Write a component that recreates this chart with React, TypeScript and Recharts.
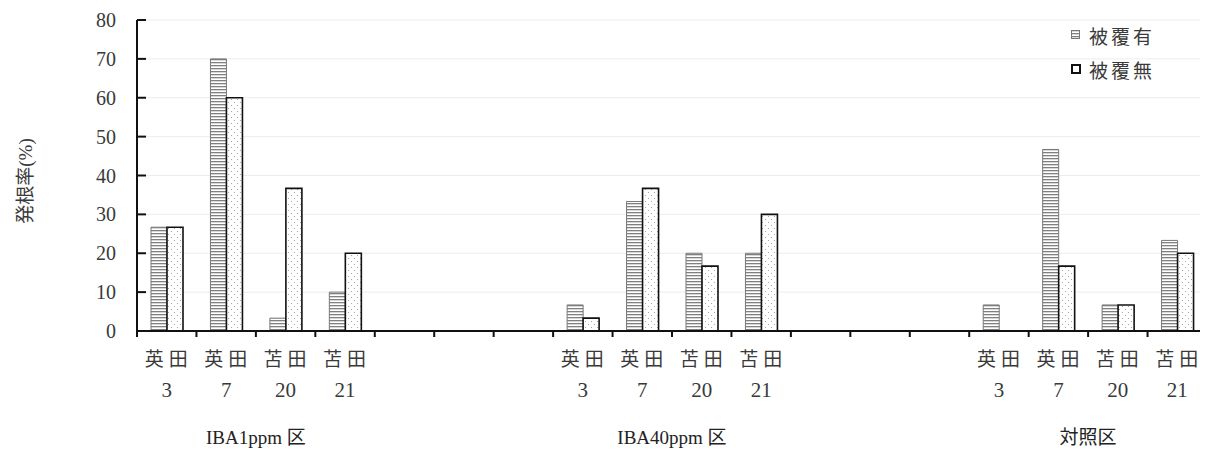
import React from "react";
import {
  BarChart,
  Bar,
  XAxis,
  YAxis,
  CartesianGrid,
} from "recharts";

const groupNames = ["IBA1ppm 区", "IBA40ppm 区", "対照区"];
const cultivars = ["英田", "英田", "苫田", "苫田"];
const clones = ["3", "7", "20", "21"];
const coveredIBA1 = [26.7, 70, 3.3, 10];
const uncoveredIBA1 = [26.7, 60, 36.7, 20];
const coveredIBA40 = [6.7, 33.3, 20, 20];
const uncoveredIBA40 = [3.3, 36.7, 16.7, 30];
const coveredControl = [6.7, 46.7, 6.7, 23.3];
const uncoveredControl = [0, 16.7, 6.7, 20];
const yTicks = [0, 10, 20, 30, 40, 50, 60, 70, 80];

const covered = [coveredIBA1, coveredIBA40, coveredControl];
const uncovered = [uncoveredIBA1, uncoveredIBA40, uncoveredControl];

type Row = {
  slot: string;
  cultivar: string;
  clone: string;
  group: string;
  covered: number | null;
  uncovered: number | null;
};

// 4 bars per group, 3 empty slots between groups
const rows: Row[] = [];
groupNames.forEach((g, gi) => {
  cultivars.forEach((c, i) => {
    rows.push({
      slot: "s" + rows.length,
      cultivar: c,
      clone: clones[i],
      group: i === 1 ? g : "",
      covered: covered[gi][i],
      uncovered: uncovered[gi][i],
    });
  });
  if (gi < groupNames.length - 1) {
    for (let k = 0; k < 3; k++) {
      rows.push({
        slot: "s" + rows.length,
        cultivar: "",
        clone: "",
        group: "",
        covered: null,
        uncovered: null,
      });
    }
  }
});

const W = 1200;
const H = 442;
const LEFT = 129;
const RIGHT = 1;
const TOP = 12;
const XH = 119;
const SLOT = (W - LEFT - RIGHT) / rows.length;

const FONT = "'Liberation Serif', 'Noto Sans CJK JP', serif";
const TXT = "#3a3a3a";

const XTick = (props: any) => {
  const { x, y, payload } = props;
  const idx = payload.index;
  const row = rows[idx];
  const left = x - SLOT / 2;
  return (
    <g>
      <line x1={left} x2={left} y1={y} y2={y + 6} stroke="#111" strokeWidth={2} />
      {idx === rows.length - 1 && (
        <line x1={left + SLOT} x2={left + SLOT} y1={y} y2={y + 6} stroke="#111" strokeWidth={2} />
      )}
      {row && row.cultivar && (
        <text x={x + 2} y={y + 28} textAnchor="middle" dominantBaseline="central"
          fontSize={19} letterSpacing={5} fill={TXT} fontFamily={FONT}>
          {row.cultivar}
        </text>
      )}
      {row && row.clone && (
        <text x={x} y={y + 59} textAnchor="middle" dominantBaseline="central"
          fontSize={21} fill={TXT} fontFamily={FONT}>
          {row.clone}
        </text>
      )}
      {row && row.group && (
        <text x={x + SLOT / 2} y={y + 106} textAnchor="middle" dominantBaseline="central"
          fontSize={19} fill="#222" fontFamily={FONT}>
          {row.group}
        </text>
      )}
    </g>
  );
};

const YTick = (props: any) => {
  const { x, y, payload } = props;
  return (
    <g>
      <line x1={x} x2={x + 9} y1={y} y2={y} stroke="#111" strokeWidth={2} />
      <text x={x - 21} y={y} textAnchor="end" dominantBaseline="central"
        fontSize={20} fill={TXT} fontFamily={FONT}>
        {payload.value}
      </text>
    </g>
  );
};

const YLabel = () => (
  <text x={17} y={173} transform="rotate(-90 17 173)" textAnchor="middle"
    dominantBaseline="central" fontSize={19} fill={TXT} fontFamily={FONT}>
    発根率(%)
  </text>
);

const LegendBox = () => (
  <div style={{ position: "absolute", top: 10, left: 1063, fontFamily: FONT, color: TXT, fontSize: 19 }}>
    <div style={{ display: "flex", alignItems: "center", height: 34 }}>
      <svg width={10} height={10} style={{ marginRight: 8 }}>
        <rect x={0.5} y={0.5} width={8} height={8} fill="url(#hatch)" stroke="#777" />
      </svg>
      <span style={{ letterSpacing: 3 }}>被覆有</span>
    </div>
    <div style={{ display: "flex", alignItems: "center", height: 34 }}>
      <svg width={10} height={10} style={{ marginRight: 8 }}>
        <rect x={1} y={1} width={8} height={8} fill="#fff" stroke="#111" strokeWidth={2} />
      </svg>
      <span style={{ letterSpacing: 3 }}>被覆無</span>
    </div>
  </div>
);

export default function App() {
  return (
    <div style={{ position: "relative", width: W, height: H }}>
      <BarChart
        width={W}
        height={H}
        data={rows}
        margin={{ top: TOP, right: RIGHT, left: 0, bottom: 0 }}
        barGap={0}
      >
        <defs>
          <pattern id="hatch" patternUnits="userSpaceOnUse" width={4} height={3}>
            <rect width={4} height={3} fill="#fff" />
            <rect width={4} height={1.3} fill="#808080" />
          </pattern>
          <pattern id="dots" patternUnits="userSpaceOnUse" width={6} height={6}>
            <rect width={6} height={6} fill="#fff" />
            <circle cx={1.5} cy={1.5} r={0.6} fill="#9a9a9a" />
            <circle cx={4.5} cy={4.5} r={0.6} fill="#9a9a9a" />
          </pattern>
        </defs>
        <CartesianGrid vertical={false} stroke="#ededed" />
        <XAxis
          dataKey="slot"
          interval={0}
          height={XH}
          tickSize={0}
          tickMargin={0}
          tickLine={false}
          tick={<XTick />}
          axisLine={{ stroke: "#111", strokeWidth: 2 }}
        />
        <YAxis
          width={LEFT}
          domain={[0, 80]}
          ticks={yTicks}
          interval={0}
          tickSize={0}
          tickMargin={0}
          tickLine={false}
          tick={<YTick />}
          axisLine={{ stroke: "#111", strokeWidth: 2 }}
          label={<YLabel />}
        />
        <Bar
          dataKey="covered"
          name="被覆有"
          barSize={16}
          fill="url(#hatch)"
          stroke="#777"
          strokeWidth={1}
          isAnimationActive={false}
        />
        <Bar
          dataKey="uncovered"
          name="被覆無"
          barSize={16}
          fill="url(#dots)"
          stroke="#111"
          strokeWidth={1.6}
          isAnimationActive={false}
        />
      </BarChart>
      <LegendBox />
    </div>
  );
}
